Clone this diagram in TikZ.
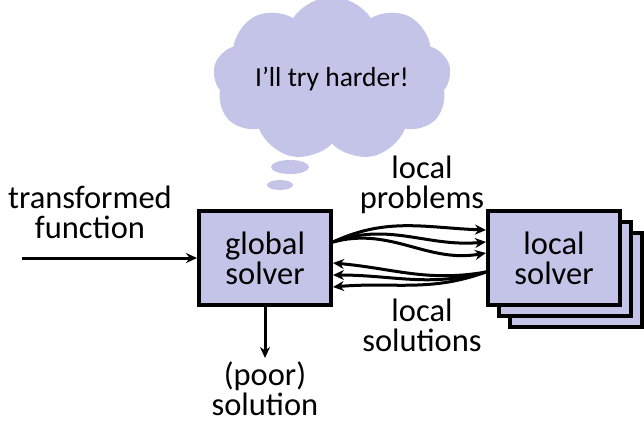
\documentclass[tikz,border=0pt]{standalone}
\usepackage{fontspec}
\setmainfont{Carlito}
\usetikzlibrary{shapes.symbols,shapes.geometric,arrows.meta}
\definecolor{lav}{RGB}{196,196,232}
\tikzset{
  solverbox/.style={draw=black,line width=4pt,fill=lav,minimum width=132pt,minimum height=94pt,align=center,font=\fontsize{32.5}{30}\selectfont},
  lbl/.style={align=center,font=\fontsize{32.5}{30}\selectfont},
  link/.style={line width=3pt,-{Stealth[length=11pt,width=10pt]}},
}
\begin{document}
\begin{tikzpicture}[x=1pt,y=1pt]
	\useasboundingbox (0,0) rectangle (644,424);

	% Thought
	\node[cloud,cloud puffs=9,cloud puff arc=115,aspect=1.75,fill=lav,minimum width=238pt,font=\fontsize{27.5}{28}\selectfont] (think) at (332,345) {I’ll try harder!};
	\node[ellipse,fill=lav,minimum width=38pt,minimum height=14pt,inner sep=0pt] (bub1) at (290,257) {};
	\node[ellipse,fill=lav,minimum width=26pt,minimum height=10pt,inner sep=0pt] (bub2) at (280,239) {};

	% Node
	\node[solverbox] (loc3) at (576,144) {};
	\node[solverbox] (loc2) at (565,155) {};
	\node[solverbox] (loc) at (554,166) {local\\solver};
	\node[solverbox] (glob) at (265,166) {global\\solver};

	%Label
	\node[lbl] (trans) at (90,212) {transformed\\function};
	\node[lbl] (probs) at (422,239) {local\\problems};
	\node[lbl] (sols) at (422,99) {local\\solutions};
	\node[lbl,anchor=north] (poor) at (265,66) {(poor)\\solution};
	\coordinate (in) at (22,166);

	%link
	\draw[link] (in) -- (glob);
	\draw[link] (glob) -- (poor);
	\draw[link] ([yshift=16pt]glob.east) to[out=25,in=178] ([yshift=28pt]loc.west);
	\draw[link] ([yshift=16pt]glob.east) to[out=20,in=185] ([yshift=16pt]loc.west);
	\draw[link] ([yshift=16pt]glob.east) to[out=15,in=190] ([yshift=5pt]loc.west);
	\draw[link] ([yshift=-14pt]loc.west) to[out=190,in=-5] ([yshift=-5pt]glob.east);
	\draw[link] ([yshift=-14pt]loc.west) to[out=195,in=0] ([yshift=-17pt]glob.east);
	\draw[link] ([yshift=-14pt]loc.west) to[out=200,in=5] ([yshift=-29pt]glob.east);

\end{tikzpicture}
\end{document}
